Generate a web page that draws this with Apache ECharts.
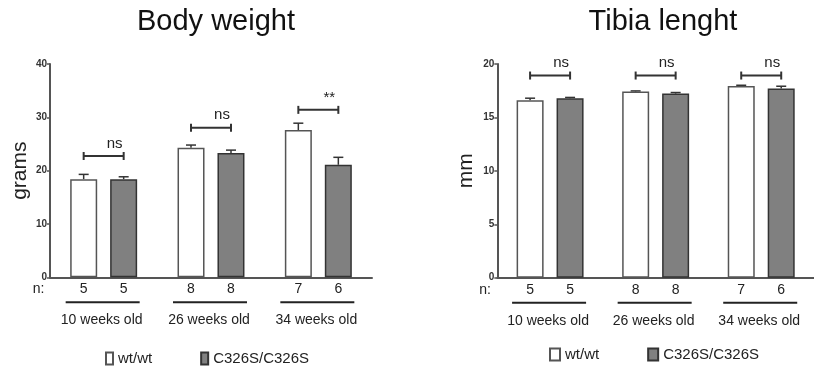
<!DOCTYPE html>
<html>
<head>
<meta charset="utf-8">
<script src="https://cdn.jsdelivr.net/npm/echarts@6/dist/echarts.min.js"></script>
<style>html,body{margin:0;padding:0;background:#fff;}#c{width:814px;height:373px;}</style>
</head>
<body>
<div id="c"></div>
<script>
var categories = ['10 weeks old', '26 weeks old', '34 weeks old'];
var seriesNames = ['wt/wt', 'C326S/C326S'];
var bwWt = [18.4, 24.3, 27.6];
var bwWtErr = [0.9, 0.5, 1.3];
var bwMut = [18.4, 23.3, 21.1];
var bwMutErr = [0.45, 0.55, 1.4];
var tlWt = [16.6, 17.42, 17.95];
var tlWtErr = [0.2, 0.06, 0.06];
var tlMut = [16.8, 17.23, 17.7];
var tlMutErr = [0.07, 0.1, 0.22];
var nWt = [5, 8, 7];
var nMut = [5, 8, 6];
var bwSig = ['ns', 'ns', '**'];
var bwSigY = [22.75, 28.06, 31.4];
var tlSig = ['ns', 'ns', 'ns'];
var tlSigY = [18.92, 18.92, 18.92];
var bwTicks = [0, 10, 20, 30, 40];
var tlTicks = [0, 5, 10, 15, 20];

var FONT = 'Liberation Sans, Arial, sans-serif';
var INK = '#222';
var OFF = 20;

var chart = echarts.init(document.getElementById('c'));

function errData(wt, wtE, mut, mutE) {
  var d = [];
  for (var i = 0; i < wt.length; i++) {
    d.push([i, wt[i], wtE[i], -1]);
    d.push([i, mut[i], mutE[i], 1]);
  }
  return d;
}
function sigData(sig, y) {
  return sig.map(function (s, i) { return [i, y[i], s]; });
}
function annData() {
  return categories.map(function (c, i) { return [i, 0, c, nWt[i], nMut[i]]; });
}

function renderErr(params, api) {
  var cat = api.value(0), v = api.value(1), e = api.value(2), side = api.value(3);
  var p0 = api.coord([cat, v]);
  var p1 = api.coord([cat, v + e]);
  var x = p0[0] + side * OFF;
  var st = { stroke: '#333', lineWidth: 1.5 };
  return {
    type: 'group',
    children: [
      { type: 'line', shape: { x1: x, y1: p0[1], x2: x, y2: p1[1] }, style: st },
      { type: 'line', shape: { x1: x - 5, y1: p1[1], x2: x + 5, y2: p1[1] }, style: st }
    ]
  };
}
function renderSig(params, api) {
  var cat = api.value(0), y = api.value(1);
  var txt = api.value(2);
  var p = api.coord([cat, y]);
  var st = { stroke: '#333', lineWidth: 2 };
  var x1 = p[0] - OFF, x2 = p[0] + OFF;
  return {
    type: 'group',
    children: [
      { type: 'line', shape: { x1: x1, y1: p[1], x2: x2, y2: p[1] }, style: st },
      { type: 'line', shape: { x1: x1, y1: p[1] - 4, x2: x1, y2: p[1] + 4 }, style: st },
      { type: 'line', shape: { x1: x2, y1: p[1] - 4, x2: x2, y2: p[1] + 4 }, style: st },
      { type: 'text', style: { text: txt, x: p[0] + 11, y: p[1] - 5, align: 'center', verticalAlign: 'bottom', fontSize: 15, fontFamily: FONT, fill: INK } }
    ]
  };
}
function renderAnn(params, api) {
  var cat = api.value(0);
  var p = api.coord([cat, 0]);
  var label = categories[cat];
  var nw = api.value(3), nm = api.value(4);
  var kids = [
    { type: 'text', style: { text: String(nw), x: p[0] - OFF, y: p[1] + 12, align: 'center', verticalAlign: 'middle', fontSize: 14, fontFamily: FONT, fill: INK } },
    { type: 'text', style: { text: String(nm), x: p[0] + OFF, y: p[1] + 12, align: 'center', verticalAlign: 'middle', fontSize: 14, fontFamily: FONT, fill: INK } },
    { type: 'line', shape: { x1: p[0] - 38, y1: p[1] + 25, x2: p[0] + 36, y2: p[1] + 25 }, style: { stroke: '#222', lineWidth: 2 } },
    { type: 'text', style: { text: label, x: p[0] - 2, y: p[1] + 43, align: 'center', verticalAlign: 'middle', fontSize: 14, fontFamily: FONT, fill: INK } }
  ];
  if (cat === 0) {
    kids.push({ type: 'text', style: { text: 'n:', x: p[0] - 65, y: p[1] + 12, align: 'center', verticalAlign: 'middle', fontSize: 14, fontFamily: FONT, fill: INK } });
  }
  return { type: 'group', children: kids };
}

function yAxis(gi, max, interval, name, gap) {
  return {
    type: 'value', gridIndex: gi, min: 0, max: max, interval: interval,
    name: name, nameLocation: 'middle', nameGap: gap, nameRotate: 90,
    nameTextStyle: { fontSize: 21, fontFamily: FONT, color: INK },
    axisLine: { show: true, lineStyle: { color: '#555', width: 2 } },
    axisTick: { show: true, length: 3, lineStyle: { color: '#555', width: 1.5 } },
    axisLabel: { margin: 3, fontSize: 10, fontWeight: 'bold', fontFamily: FONT, color: '#333' },
    splitLine: { show: false }
  };
}
function xAxis(gi) {
  return {
    type: 'category', gridIndex: gi, data: categories,
    axisLine: { show: true, lineStyle: { color: '#555', width: 2 } },
    axisTick: { show: false }, axisLabel: { show: false }, splitLine: { show: false }
  };
}
function barSeries(name, gi, data, fill, border) {
  return {
    type: 'bar', name: name, xAxisIndex: gi, yAxisIndex: gi, data: data,
    barWidth: 27, barGap: '48%',
    itemStyle: { color: fill, borderColor: border, borderWidth: 1.5 },
    emphasis: { disabled: true }, animation: false
  };
}
function customSeries(gi, data, fn, z) {
  return {
    type: 'custom', xAxisIndex: gi, yAxisIndex: gi, data: data, renderItem: fn,
    clip: false, z: z, silent: true, animation: false,
    encode: { x: 0, y: 1 }
  };
}
function legend(left, top, iw) {
  return {
    left: left, top: top, padding: 0, data: seriesNames, icon: 'rect', itemWidth: iw, itemHeight: 12, itemGap: 48,
    selectedMode: false,
    textStyle: { fontSize: 15, fontFamily: FONT, color: INK }
  };
}

chart.setOption({
  animation: false,
  backgroundColor: '#fff',
  title: [
    { text: 'Body weight', left: 211, top: 2, textAlign: 'center', textStyle: { fontSize: 29, fontWeight: 'normal', fontFamily: FONT, color: '#111' } },
    { text: 'Tibia lenght', left: 658, top: 2, textAlign: 'center', textStyle: { fontSize: 29, fontWeight: 'normal', fontFamily: FONT, color: '#111' } }
  ],
  legend: [legend(105, 351, 7), legend(549, 347, 10)],
  grid: [
    { left: 50, top: 64, width: 322, height: 213.3 },
    { left: 497.3, top: 64, width: 322, height: 213.7 }
  ],
  xAxis: [xAxis(0), xAxis(1)],
  yAxis: [yAxis(0, 40, 10, 'grams', 19), yAxis(1, 20, 5, 'mm', 21)],
  series: [
    barSeries(seriesNames[0], 0, bwWt, '#ffffff', '#555'),
    barSeries(seriesNames[1], 0, bwMut, '#808080', '#333'),
    barSeries(seriesNames[0], 1, tlWt, '#ffffff', '#555'),
    barSeries(seriesNames[1], 1, tlMut, '#808080', '#333'),
    customSeries(0, errData(bwWt, bwWtErr, bwMut, bwMutErr), renderErr, 1),
    customSeries(1, errData(tlWt, tlWtErr, tlMut, tlMutErr), renderErr, 1),
    customSeries(0, sigData(bwSig, bwSigY), renderSig, 3),
    customSeries(1, sigData(tlSig, tlSigY), renderSig, 3),
    customSeries(0, annData(), renderAnn, 3),
    customSeries(1, annData(), renderAnn, 3)
  ]
});
</script>
</body>
</html>
